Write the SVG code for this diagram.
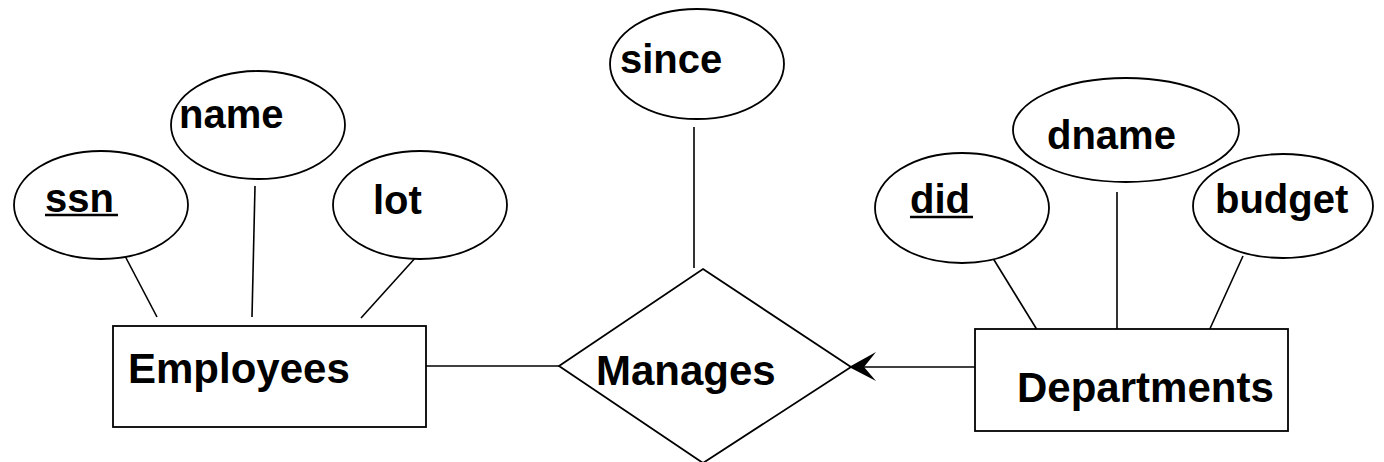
<svg xmlns="http://www.w3.org/2000/svg" width="1384" height="462" viewBox="0 0 1384 462">
<style>
.shape{fill:#fff;stroke:#000;stroke-width:1.8}
.conn line{stroke:#000;stroke-width:1.6}
.head{fill:#000;stroke:none}
text{font-family:"Liberation Sans",Arial,sans-serif;font-weight:bold;font-size:42px;fill:#000}
.attr{font-size:40px}
</style>
<g id="connectors" class="conn">
<line x1="125" y1="256" x2="157" y2="317"/>
<line x1="255" y1="186" x2="252" y2="317"/>
<line x1="417" y1="256" x2="361" y2="318"/>
<line x1="694" y1="127" x2="694" y2="268"/>
<line x1="991" y1="255" x2="1039" y2="333"/>
<line x1="1117" y1="192" x2="1117" y2="332"/>
<line x1="1243" y1="256" x2="1208" y2="333"/>
<line x1="426" y1="366" x2="559" y2="366"/>
<line x1="975" y1="367" x2="860" y2="367"/>
<polygon class="head" points="849,367 876,352 864,367 876,381"/>
</g>
<g id="employees">
<rect class="shape" x="113" y="326" width="313" height="101"/>
<text x="128" y="383">Employees</text>
</g>
<g id="ssn">
<ellipse class="shape" cx="101" cy="205" rx="87" ry="54"/>
<text class="attr" x="45" y="212">ssn</text>
<line x1="45" y1="215" x2="118" y2="215" stroke="#000" stroke-width="2.5"/>
</g>
<g id="name">
<ellipse class="shape" cx="258" cy="125" rx="87" ry="54"/>
<text class="attr" x="179" y="128">name</text>
</g>
<g id="lot">
<ellipse class="shape" cx="420" cy="205" rx="87" ry="54"/>
<text class="attr" x="373" y="214">lot</text>
</g>
<g id="manages">
<polygon class="shape" points="703,269 851,367 703,463 559,366"/>
<text x="596" y="385">Manages</text>
</g>
<g id="since">
<ellipse class="shape" cx="697" cy="64" rx="87" ry="55"/>
<text class="attr" x="620" y="73">since</text>
</g>
<g id="departments">
<rect class="shape" x="975" y="329" width="313" height="102"/>
<text x="1017" y="402">Departments</text>
</g>
<g id="did">
<ellipse class="shape" cx="962" cy="208" rx="87" ry="55"/>
<text class="attr" x="910" y="213">did</text>
<line x1="910" y1="217" x2="973" y2="217" stroke="#000" stroke-width="2.5"/>
</g>
<g id="dname">
<ellipse class="shape" cx="1126" cy="130" rx="113" ry="52"/>
<text class="attr" x="1047" y="149">dname</text>
</g>
<g id="budget">
<ellipse class="shape" cx="1283" cy="206" rx="90" ry="52"/>
<text class="attr" x="1215" y="213">budget</text>
</g>
</svg>
